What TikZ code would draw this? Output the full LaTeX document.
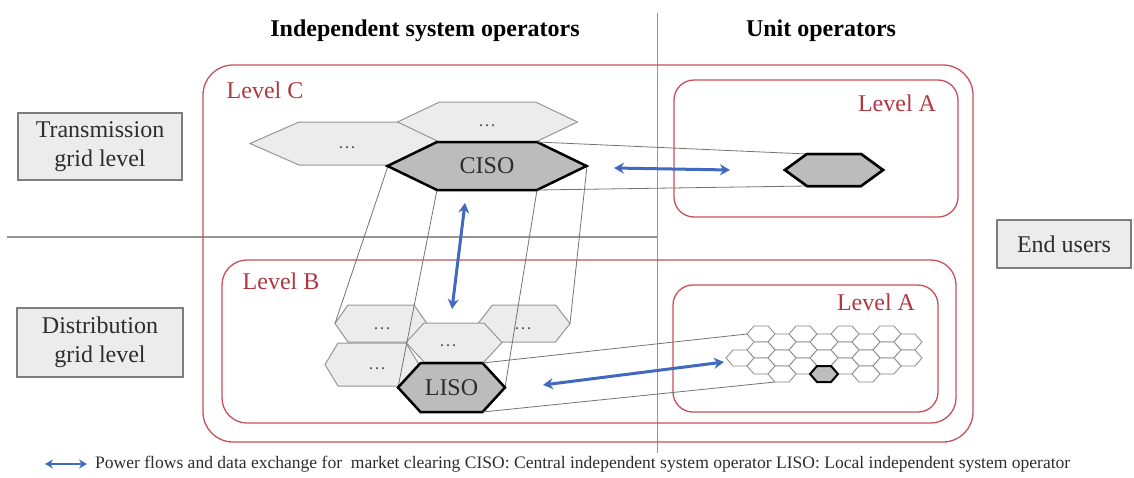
\documentclass[tikz,border=0pt]{standalone}
\usepackage{fontspec}
\setmainfont{Liberation Serif}
\usetikzlibrary{arrows.meta}
\definecolor{redbox}{RGB}{200,80,90}
\definecolor{redtxt}{RGB}{175,55,65}
\definecolor{lnk}{RGB}{115,115,115}
\definecolor{sepline}{RGB}{150,150,150}
\definecolor{boxfill}{RGB}{236,236,236}
\definecolor{boxdraw}{RGB}{125,125,125}
\definecolor{hexlight}{RGB}{236,236,236}
\definecolor{hexline}{RGB}{150,150,150}
\definecolor{hexdark}{RGB}{188,188,188}
\definecolor{flow}{RGB}{65,105,190}
\definecolor{txt}{RGB}{45,45,45}
\newcommand\hexa[8]{%
  \coordinate (#1-l) at ({#2-#4},#3);
  \coordinate (#1-tl) at ({#2-#5},{#3-#6});
  \coordinate (#1-tr) at ({#2+#5},{#3-#6});
  \coordinate (#1-r) at ({#2+#4},#3);
  \coordinate (#1-br) at ({#2+#5},{#3+#6});
  \coordinate (#1-bl) at ({#2-#5},{#3+#6});
  \draw[#7] (#1-l)--(#1-tl)--(#1-tr)--(#1-r)--(#1-br)--(#1-bl)--cycle;
  \node[hextext] (#1) at (#2,#3) {#8};}
\newcommand\gcell[3]{%
  \draw[#3] ({#1-14},#2)--({#1-7},{#2-8})--({#1+7},{#2-8})--({#1+14},#2)--({#1+7},{#2+8})--({#1-7},{#2+8})--cycle;}
\begin{document}
\begin{tikzpicture}[x=1pt,y=-1pt,
  hexlt/.style={fill=hexlight, draw=hexline, line width=1pt},
  hexdk/.style={fill=hexdark, draw=black, line width=2.5pt, line join=miter},
  hextext/.style={text=txt, font=\fontsize{24}{28}\selectfont, inner sep=0pt},
  dotstext/.style={text=txt!80, font=\fontsize{18}{20}\selectfont, inner sep=0pt},
  lvlbox/.style={draw=redbox, line width=1.3pt},
  lvltxt/.style={text=redtxt, font=\fontsize{24}{28}\selectfont, inner sep=0pt},
  gridbox/.style={draw=boxdraw, fill=boxfill, line width=1.5pt, text=txt,
    font=\fontsize{24}{29}\selectfont, align=center, inner sep=0pt},
  titletxt/.style={font=\bfseries\fontsize{24}{28}\selectfont, inner sep=0pt},
  thinln/.style={draw=lnk, line width=0.8pt},
  sep/.style={draw=sepline, line width=1.3pt},
  flowarrow/.style={draw=flow, line width=3pt,
    {Stealth[length=10pt,width=11pt]}-{Stealth[length=10pt,width=11pt]}},
  gc/.style={fill=white, draw=hexline!90!black, line width=0.8pt},
  gcdk/.style={fill=hexdark, draw=black, line width=2pt, line join=miter}]
\useasboundingbox (0,0) rectangle (1134,477);

% separator lines
\coordinate (vtop) at (657,13);
\coordinate (vbot) at (657,453);
\coordinate (hl) at (7,237);
\draw[sep, line width=1pt] (vtop) -- (vbot);
\draw[sep] (hl) -- (vtop |- hl);

% level boxes
\draw[lvlbox, rounded corners=30pt] (203,65) rectangle (973,442);
\draw[lvlbox, rounded corners=20pt] (674,80) rectangle (958,217);
\draw[lvlbox, rounded corners=25pt] (222,260) rectangle (956,423);
\draw[lvlbox, rounded corners=20pt] (673,285) rectangle (938,412);
\node[lvltxt] (lvC) at (265,90) {Level C};
\node[lvltxt] (lvAt) at (897,103) {Level A};
\node[lvltxt] (lvB) at (281,281) {Level B};
\node[lvltxt] (lvAb) at (876,302) {Level A};

% light hexes
\hexa{hL}{349}{143.5}{99}{50}{21.5}{hexlt}{}
\node[dotstext] (dL) at (347,148) {\ldots};
\hexa{hT}{487.5}{122}{90}{48}{20}{hexlt}{}
\node[dotstext] (dT) at (487,126) {\ldots};
\hexa{bTL}{381}{323.5}{46}{33}{18.5}{hexlt}{}
\node[dotstext] (dTL) at (382,329) {\ldots};
\hexa{bTR}{524}{323.5}{46}{31.5}{18.5}{hexlt}{}
\node[dotstext] (dTR) at (523,329) {\ldots};
\hexa{bBL}{372}{364.5}{47}{34}{21.5}{hexlt}{}
\node[dotstext] (dBL) at (377,369) {\ldots};
\hexa{bM}{454}{342.5}{48}{30}{19.5}{hexlt}{}
\node[dotstext] (dM) at (448,346) {\ldots};

% CISO / LISO
\coordinate (cl) at (388,166);
\coordinate (cbl) at (437,190);
\coordinate (cbr) at (537,190);
\coordinate (cr) at (587,166);
\coordinate (ctr) at (537,142);
\draw[thinln] (cl) -- (bTL-l);
\draw[thinln] (cr) -- (bTR-r);
\draw[thinln] (cbl) -- (398,387.5);
\draw[thinln] (cbr) -- (505,387.5);
\hexa{ciso}{487}{166}{99.5}{50}{24}{hexdk}{CISO}
\hexa{liso}{451.5}{387.5}{53.5}{31}{24.5}{hexdk}{LISO}

% unit hex top
\hexa{uh}{834}{170}{49}{27}{16}{hexdk}{}
\draw[thinln] (ciso-tr) -- (uh-tl);
\draw[thinln] (ciso-br) -- (uh-bl);
% redraw unit hex over lines
\draw[hexdk] (uh-l)--(uh-tl)--(uh-tr)--(uh-r)--(uh-br)--(uh-bl)--cycle;

% honeycomb
\foreach \cx in {761,803,845,887} {\gcell{\cx}{334}{gc}}
\foreach \cx in {782,824,866,908} {\gcell{\cx}{342}{gc}}
\foreach \cx in {761,803,845,887} {\gcell{\cx}{350}{gc}}
\foreach \cx in {740,782,824,866,908} {\gcell{\cx}{358}{gc}}
\foreach \cx in {761,803,845,887} {\gcell{\cx}{366}{gc}}
\foreach \cx in {782,866} {\gcell{\cx}{374}{gc}}
\gcell{824}{374}{gcdk}
\coordinate (gtl) at (747,334);
\coordinate (gbl) at (775,382);
\draw[thinln] (liso-tr) -- (gtl);
\draw[thinln] (liso-br) -- (gbl);

% flow arrows
\coordinate (a1s) at (614,168);
\coordinate (a1e) at (730,170);
\draw[flowarrow] (a1s) -- (a1e);
\coordinate (a2s) at (465,203);
\coordinate (a2e) at (452,309);
\draw[flowarrow] (a2s) -- (a2e);
\coordinate (a3s) at (543,385);
\coordinate (a3e) at (724,362);
\draw[flowarrow] (a3s) -- (a3e);

% titles
\node[titletxt] (tISO) at (425,31) {Independent system operators};
\node[titletxt] (tUO) at (821,31) {Unit operators};

% grid level boxes
\node[gridbox, minimum width=164pt, minimum height=67pt] (trans) at (100,146.5) {Transmission\\grid level};
\node[gridbox, minimum width=166pt, minimum height=69pt] (dist) at (100,342.5) {Distribution\\grid level};
\node[gridbox, minimum width=134pt, minimum height=48pt] (endu) at (1064,244) {End users};

% legend
\coordinate (lgs) at (45,464);
\coordinate (lge) at (87,464);
\draw[draw=flow, line width=2.5pt, {Stealth[length=8pt,width=9pt]}-{Stealth[length=8pt,width=9pt]}] (lgs) -- (lge);
\node[anchor=west, inner sep=0pt, text=txt] (legend) at (95,464) {\resizebox{975pt}{!}{\fontsize{14}{16}\selectfont Power flows and data exchange for~ market clearing CISO: Central independent system operator LISO: Local independent system operator}};
\end{tikzpicture}
\end{document}
